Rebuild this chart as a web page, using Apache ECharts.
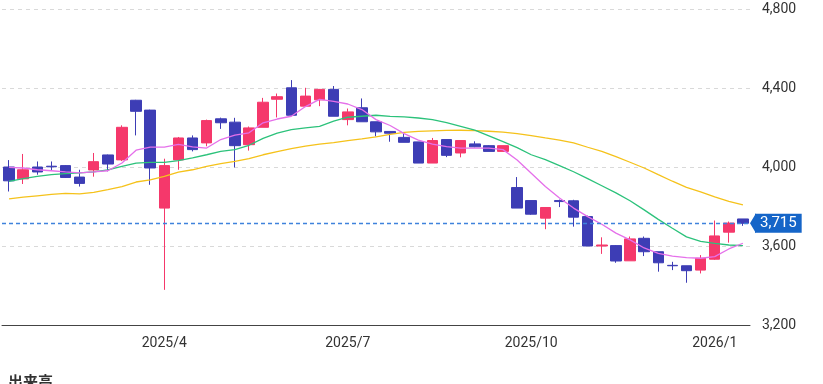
<!DOCTYPE html>
<html>
<head>
<meta charset="utf-8">
<script src="https://cdn.jsdelivr.net/npm/echarts@6/dist/echarts.min.js"></script>
<style>
html,body{margin:0;padding:0;background:#fff;}
#chart{width:823px;height:384px;}
</style>
</head>
<body>
<div id="chart"></div>
<script>
// Weekly categories (week start)
var weeks = [
  '2025/01/13','2025/01/20','2025/01/27','2025/02/03','2025/02/10','2025/02/17','2025/02/24',
  '2025/03/03','2025/03/10','2025/03/17','2025/03/24','2025/03/31','2025/04/07','2025/04/14',
  '2025/04/21','2025/04/28','2025/05/05','2025/05/12','2025/05/19','2025/05/26','2025/06/02',
  '2025/06/09','2025/06/16','2025/06/23','2025/06/30','2025/07/07','2025/07/14','2025/07/21',
  '2025/07/28','2025/08/04','2025/08/11','2025/08/18','2025/08/25','2025/09/01','2025/09/08',
  '2025/09/15','2025/09/22','2025/09/29','2025/10/06','2025/10/13','2025/10/20','2025/10/27',
  '2025/11/03','2025/11/10','2025/11/17','2025/11/24','2025/12/01','2025/12/08','2025/12/15',
  '2025/12/22','2025/12/29','2026/01/05','2026/01/12'
];
// Tick labels on the x axis
var xTickWeeks  = ['2025/03/31','2025/06/30','2025/09/29','2025/12/29'];
var xTickLabels = ['2025/4','2025/7','2025/10','2026/1'];
// Y axis ticks
var yMin = 3200, yMax = 4800, yStep = 400;

// Candles: [open, close, low, high]
var candles = [
  [4000,3930,3876,4035],[3940,3986,3914,4066],[4000,3975,3961,4028],[4004,4001,3980,4028],
  [4007,3947,3945,4010],[3949,3917,3901,3986],[3985,4027,3951,4071],[4061,4015,3978,4063],
  [4036,4201,4030,4211],[4338,4282,4160,4340],[4288,3995,3910,4290],[3792,4007,3378,4042],
  [4036,4147,3986,4152],[4147,4088,4079,4160],[4122,4235,4105,4240],[4244,4224,4193,4250],
  [4227,4108,3998,4249],[4113,4198,4083,4205],[4201,4328,4201,4350],[4343,4356,4251,4372],
  [4401,4262,4262,4440],[4308,4359,4305,4401],[4340,4393,4308,4395],[4393,4257,4257,4410],
  [4240,4279,4211,4296],[4300,4229,4229,4347],[4229,4178,4155,4229],[4180,4171,4128,4180],
  [4150,4125,4125,4168],[4127,4020,4020,4127],[4020,4134,4020,4147],[4139,4059,4050,4139],
  [4071,4134,4049,4134],[4117,4102,4100,4130],[4108,4079,4079,4110],[4079,4108,4079,4108],
  [3896,3792,3792,3949],[3830,3761,3758,3830],[3741,3795,3685,3795],[3830,3825,3797,3835],
  [3829,3746,3698,3834],[3749,3600,3600,3754],[3600,3605,3560,3644],[3602,3524,3515,3605],
  [3525,3636,3525,3648],[3639,3571,3549,3648],[3571,3515,3470,3571],[3502,3500,3478,3520],
  [3500,3475,3414,3500],[3478,3538,3461,3554],[3533,3651,3530,3729],[3670,3716,3617,3724],
  [3737,3715,3702,3737]
];

// Moving averages
var ma5 = [3998,3995,3986,3981,3975,3970,3975,3981,4020,4085,4101,4101,4115,4102,4096,4139,
  4161,4173,4224,4243,4257,4306,4342,4332,4319,4291,4240,4210,4169,4136,4116,4103,4096,4096,
  4096,4088,4035,3968,3901,3843,3792,3749,3710,3665,3631,3590,3563,3549,3541,3538,3546,3585,3614];
var ma13 = [3927,3941,3952,3961,3966,3970,3975,3985,4003,4020,4023,4023,4032,4046,4062,4079,
  4088,4110,4145,4172,4189,4198,4206,4232,4252,4257,4262,4256,4254,4248,4240,4225,4206,4187,
  4158,4128,4098,4062,4037,4007,3976,3941,3905,3869,3829,3783,3735,3690,3646,3623,3613,3605,3602];
var ma26 = [3839,3847,3854,3861,3866,3864,3872,3885,3901,3924,3935,3952,3974,3986,4003,4017,
  4028,4042,4062,4078,4093,4106,4116,4123,4134,4142,4152,4165,4175,4180,4183,4185,4186,4184,
  4181,4177,4169,4159,4147,4136,4122,4100,4079,4052,4024,3995,3961,3928,3897,3874,3849,3826,3808];

var lastClose = candles[candles.length - 1][1];
var fmt = function (v) { return Number(v).toLocaleString('en-US'); };
var FONT = 'Roboto';

var chart = echarts.init(document.getElementById('chart'), null, {renderer: 'canvas'});
chart.setOption({
  animation: false,
  backgroundColor: '#ffffff',
  title: {
    text: '出来高', left: 8, top: 374, padding: 0,
    textStyle: {fontSize: 15, fontWeight: 'bold', color: '#333', fontFamily: 'Noto Sans CJK JP'}
  },
  grid: {left: 2, right: 73, top: 9, bottom: 59},
  xAxis: {
    type: 'category',
    data: weeks,
    boundaryGap: true,
    axisLine: {show: true, lineStyle: {color: '#444', width: 1}},
    axisTick: {show: false},
    splitLine: {show: false},
    axisLabel: {
      color: '#333', fontSize: 14, fontFamily: FONT, margin: 11,
      interval: function (idx, val) { return xTickWeeks.indexOf(val) >= 0; },
      formatter: function (val) {
        var k = xTickWeeks.indexOf(val);
        return k >= 0 ? xTickLabels[k] : '';
      }
    }
  },
  yAxis: {
    type: 'value', position: 'right', min: yMin, max: yMax, interval: yStep,
    axisLine: {show: false}, axisTick: {show: false},
    axisLabel: {color: '#333', fontSize: 14, fontFamily: FONT, margin: 12, formatter: fmt},
    splitLine: {show: true, lineStyle: {color: '#d9d9d9', type: [4, 4], width: 1}}
  },
  series: [
    {
      name: 'MA26', type: 'line', data: ma26, symbol: 'none', z: 3,
      lineStyle: {color: '#f5c21b', width: 1.3},
      markLine: {
        silent: true, animation: false, symbol: ['none', 'none'],
        lineStyle: {color: '#3f82dc', width: 1.3, type: [4, 3], opacity: 1},
        label: {show: false},
        emphasis: {disabled: true},
        data: [{yAxis: lastClose}]
      }
    },
    {
      name: 'MA13', type: 'line', data: ma13, symbol: 'none', z: 3,
      lineStyle: {color: '#2cc27b', width: 1.3}
    },
    {
      name: 'MA5', type: 'line', data: ma5, symbol: 'none', z: 3,
      lineStyle: {color: '#e570ea', width: 1.3},
      markLine: {
        silent: true, animation: false,
        symbol: ['none', 'path://M0,0L20,0L10,10ZM10,20L10,20.01'],
        symbolSize: [20, 12],
        lineStyle: {color: '#1565c8', width: 0, type: 'solid'},
        label: {
          show: true, position: 'end', distance: 5,
          formatter: function () { return fmt(lastClose); },
          color: '#fff', fontSize: 15, fontFamily: FONT,
          backgroundColor: '#1565c8', padding: [2, 5, 2, 5], lineHeight: 15
        },
        data: [{yAxis: lastClose}]
      }
    },
    {
      name: 'price', type: 'candlestick', data: candles, barWidth: 11, z: 2,
      itemStyle: {
        color: '#f5386b', color0: '#3d3db5',
        borderColor: '#f5386b', borderColor0: '#3d3db5', borderWidth: 1
      }
    }
  ]
});
</script>
</body>
</html>
